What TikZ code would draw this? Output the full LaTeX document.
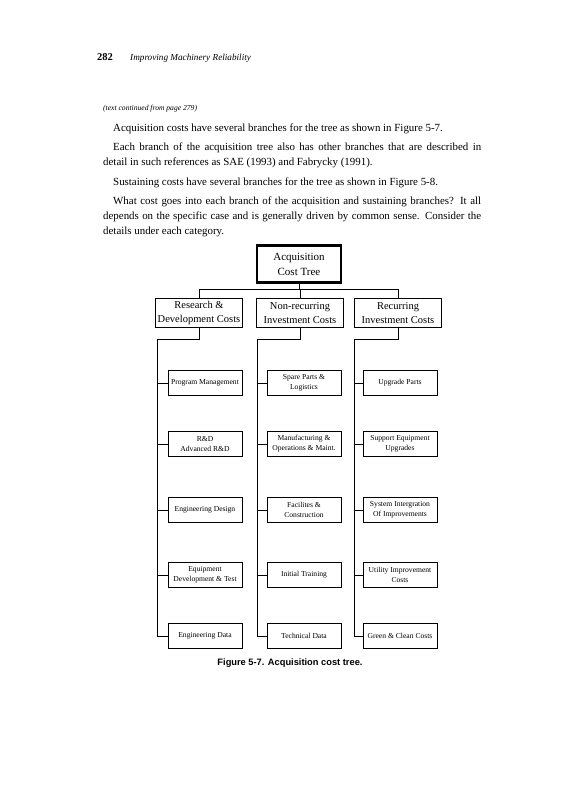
\documentclass[tikz,border=0pt]{standalone}
\usepackage{fontspec}
\setmainfont{Liberation Serif}
\setsansfont{Liberation Sans}
\usepackage{tikz}

\tikzset{
  rootbox/.style={draw, line width=2.4pt, minimum width=84pt, minimum height=37pt,
    align=center, inner sep=1pt, font=\fontsize{11}{15}\selectfont},
  topbox/.style={draw, line width=0.7pt, minimum width=87pt, minimum height=29pt,
    align=center, inner sep=1pt, font=\fontsize{10.5}{14}\selectfont},
  costbox/.style={draw, line width=0.7pt, minimum width=74pt, minimum height=25pt,
    align=center, inner sep=1pt, font=\fontsize{7.6}{10}\selectfont},
  link/.style={line width=0.6pt},
  bodyline/.style={anchor=base west, inner sep=0pt, font=\fontsize{10.9}{15}\selectfont},
}

\begin{document}
\begin{tikzpicture}[x=1pt, y=-1pt]
  \useasboundingbox[fill=white] (0,0) rectangle (572,800);

  % running head and text
  \node[anchor=base west, inner sep=0pt, font=\fontsize{10.5}{12}\selectfont] (pagenum) at (97,60) {\textbf{282}};
  \node[anchor=base west, inner sep=0pt, font=\fontsize{9.2}{12}\selectfont\itshape] (runhead) at (130,60) {Improving Machinery Reliability};
  \node[anchor=base west, inner sep=0pt, font=\fontsize{7.6}{9}\selectfont\itshape] (contd) at (103,110) {(text continued from page 279)};

  \node[bodyline] (p1) at (113,131) {Acquisition costs have several branches for the tree as shown in Figure 5-7.};
  \node[bodyline] (p2a) at (113,150) {\makebox[368pt][s]{Each branch of the acquisition tree also has other branches that are described in}};
  \node[bodyline] (p2b) at (103,165) {detail in such references as SAE (1993) and Fabrycky (1991).};
  \node[bodyline] (p3) at (113,185) {Sustaining costs have several branches for the tree as shown in Figure 5-8.};
  \node[bodyline] (p4a) at (113,204) {\makebox[368pt][s]{What cost goes into each branch of the acquisition and sustaining branches? It all}};
  \node[bodyline] (p4b) at (103,219) {\makebox[378pt][s]{depends on the specific case and is generally driven by common sense. Consider the}};
  \node[bodyline] (p4c) at (103,234) {details under each category.};

  % the tree
  \node[rootbox] (root) at (299,264) {Acquisition\\Cost Tree};

  \node[topbox] (rd)     at (199,313) {Research \&\\Development Costs};
  \node[topbox] (nonrec) at (300,313) {Non-recurring\\Investment Costs};
  \node[topbox] (rec)    at (398,313) {Recurring\\Investment Costs};

  % research and development
  \node[costbox] (pm)      at (205,383) {Program Management};
  \node[costbox] (rnd)     at (205,444) {R\&D\\Advanced R\&D};
  \node[costbox] (engdes)  at (205,510) {Engineering Design};
  \node[costbox] (eqdev)   at (205,575) {Equipment\\Development \& Test};
  \node[costbox] (engdata) at (205,636) {Engineering Data};

  % non-recurring investment
  \node[costbox] (spares)   at (304,383) {Spare Parts \&\\Logistics};
  \node[costbox] (manuf)    at (304,444) {Manufacturing \&\\Operations \& Maint.};
  \node[costbox] (facil)    at (304,510) {Facilites \&\\Construction};
  \node[costbox] (train)    at (304,575) {Initial Training};
  \node[costbox] (techdata) at (304,636) {Technical Data};

  % recurring investment
  \node[costbox] (upgr)   at (400,383) {Upgrade Parts};
  \node[costbox] (supp)   at (400,444) {Support Equipment\\Upgrades};
  \node[costbox] (sysint) at (400,510) {System Intergration\\Of Improvements};
  \node[costbox] (util)   at (400,575) {Utility Improvement\\Costs};
  \node[costbox] (green)  at (400,636) {Green \& Clean Costs};

  % connectors
  \coordinate (bus) at (0,289);
  \draw[link] (root.south) -- (root.south |- bus);
  \draw[link] (rd.north) |- (rec.north |- bus) -- (rec.north);
  \draw[link] (nonrec.north) -- (nonrec.north |- bus);

  \coordinate (sp1) at (157,339);
  \coordinate (sp2) at (257,339);
  \coordinate (sp3) at (354,339);
  \draw[link] (rd.south) |- (sp1) |- (engdata.west);
  \draw[link] (nonrec.south) |- (sp2) |- (techdata.west);
  \draw[link] (rec.south) |- (sp3) |- (green.west);
  \foreach \n/\s in {pm/sp1, rnd/sp1, engdes/sp1, eqdev/sp1,
                     spares/sp2, manuf/sp2, facil/sp2, train/sp2,
                     upgr/sp3, supp/sp3, sysint/sp3, util/sp3}
    \draw[link] (\n.west -| \s) -- (\n.west);

  \node[anchor=base, inner sep=0pt, font=\sffamily\bfseries\fontsize{9.3}{11}\selectfont] (caption) at (290,665) {Figure 5-7. Acquisition cost tree.};
\end{tikzpicture}
\end{document}
